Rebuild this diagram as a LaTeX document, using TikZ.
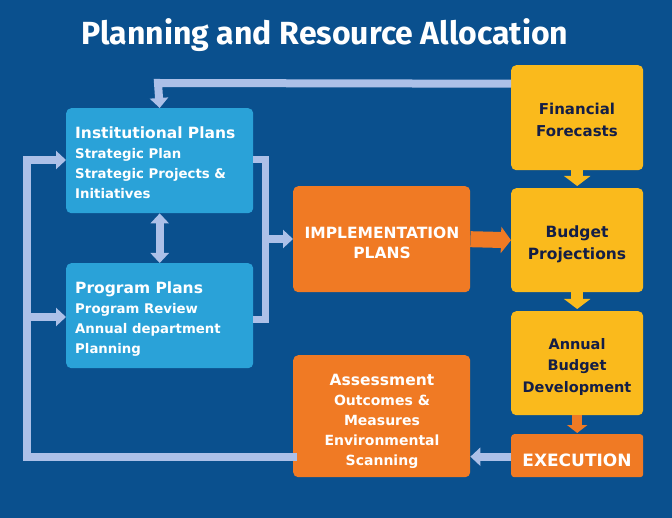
\documentclass[tikz,border=0pt]{standalone}
\usepackage{fontspec}
\setmainfont{Fira Sans}
\newfontfamily\boxfont{DejaVu Sans}
\usetikzlibrary{arrows.meta,calc}
\definecolor{bg}{RGB}{10,80,142}
\definecolor{lblue}{RGB}{42,162,216}
\definecolor{conncol}{RGB}{172,192,232}
\definecolor{orng}{RGB}{240,122,36}
\definecolor{yel}{RGB}{250,186,28}
\definecolor{navy}{RGB}{20,30,70}
\tikzset{
  box/.style={rounded corners=5pt, inner sep=0pt, anchor=north west},
  bluebox/.style={box, fill=lblue},
  orbox/.style={box, fill=orng},
  yelbox/.style={box, fill=yel},
  btxt/.style={text=white, font=\boxfont\bfseries\fontsize{13.3}{20}\selectfont, align=left, inner sep=0pt, anchor=north west},
  otxt/.style={text=white, font=\boxfont\bfseries\fontsize{14}{20}\selectfont, align=center},
  ytxt/.style={text=navy, font=\boxfont\bfseries\fontsize{15}{22}\selectfont, align=center},
  conn/.style={draw=conncol, line width=8pt, -{Triangle[width=18pt,length=10pt]}},
  plain/.style={draw=conncol, line width=8pt},
  ylarrow/.style={draw=yel, line width=12pt, -{Triangle[width=26pt,length=10pt]}},
  orarrow/.style={draw=orng, line width=16pt, -{Triangle[width=26pt,length=10pt]}},
}
\begin{document}
\begin{tikzpicture}[x=1pt,y=-1pt]
\fill[bg] (0,0) rectangle (672,518);
\useasboundingbox (0,0) rectangle (672,518);
\node[text=white, font=\bfseries\fontsize{32}{36}\selectfont] (title) at (325,35) {Planning and Resource Allocation};

% blue boxes
\node[bluebox, minimum width=187pt, minimum height=105pt] (inst) at (66,108) {};
\node[btxt] (insttxt) at (75,127)
 {{\fontsize{15.5}{20}\selectfont Institutional Plans}\\Strategic Plan\\Strategic Projects \&\\Initiatives};
\node[bluebox, minimum width=187pt, minimum height=105pt] (prog) at (66,263) {};
\node[btxt] (progtxt) at (75,282)
 {{\fontsize{15.5}{20}\selectfont Program Plans}\\Program Review\\Annual department\\Planning};

% orange boxes
\node[orbox, minimum width=177pt, minimum height=106pt] (impl) at (293,186) {};
\node[otxt, font=\boxfont\bfseries\fontsize{15.5}{20}\selectfont] (impltxt) at (382,243) {IMPLEMENTATION\\PLANS};
\node[orbox, minimum width=177pt, minimum height=122pt] (assess) at (293,355) {};
\node[otxt] (assesstxt) at (382,421)
 {{\fontsize{15.5}{20}\selectfont Assessment}\\Outcomes \&\\Measures\\Environmental\\Scanning};

% yellow boxes
\node[yelbox, minimum width=132pt, minimum height=105pt] (ff) at (511,65) {};
\node[ytxt] (fftxt) at (577,120) {Financial\\Forecasts};
\node[yelbox, minimum width=132pt, minimum height=104pt] (bp) at (511,188) {};
\node[ytxt, font=\boxfont\bfseries\fontsize{15.5}{22}\selectfont] (bptxt) at (577,244) {Budget\\Projections};
\node[yelbox, minimum width=132pt, minimum height=104pt] (abd) at (511,311) {};
\node[ytxt, font=\boxfont\bfseries\fontsize{14.5}{21.5}\selectfont] (abdtxt) at (577,367) {Annual\\Budget\\Development};
\node[orbox, rounded corners=3pt, minimum width=132pt, minimum height=43pt] (exec) at (511,434) {};
\node[text=white, font=\boxfont\bfseries\fontsize{17}{20}\selectfont] (exectxt) at (577,460) {EXECUTION};

% connectors
\coordinate (topl) at (158,83);
\draw[conn] ([yshift=34pt]ff.west) -- (topl) -- (inst.north);
\draw[conn, <->, >={Triangle[width=18pt,length=10pt]}] (inst.south) -- (prog.north);

\coordinate (lb) at (27,457);
\coordinate (lt) at (27,160);
\coordinate (lm) at (27,317);
\draw[plain, line cap=rect] (assess.west |- lb) -- (lb) -- (lt);
\draw[conn] ([xshift=-4pt]lt) -- (lt -| inst.west);
\draw[conn] (lm) -- (lm -| prog.west);

\coordinate (rt) at (265,160);
\coordinate (rb) at (265,320);
\coordinate (rm) at (265,239);
\draw[plain, line width=7pt] (rt -| inst.east) -- (rt) -- (rb) -- (rb -| prog.east);
\draw[conn] (rm) -- (rm -| impl.west);

\draw[orarrow] (impl.east) -- (bp.west);
\draw[ylarrow] (ff.south) -- ([yshift=2pt]bp.north);
\draw[ylarrow] (bp.south) -- ([yshift=2pt]abd.north);
\draw[draw=orng, line width=10pt, -{Triangle[width=20pt,length=8pt]}] (abd.south) -- ([yshift=1pt]exec.north);
\draw[conn] ([yshift=-1pt]exec.west) -- ([yshift=-1pt]exec.west -| assess.east);
\end{tikzpicture}
\end{document}
